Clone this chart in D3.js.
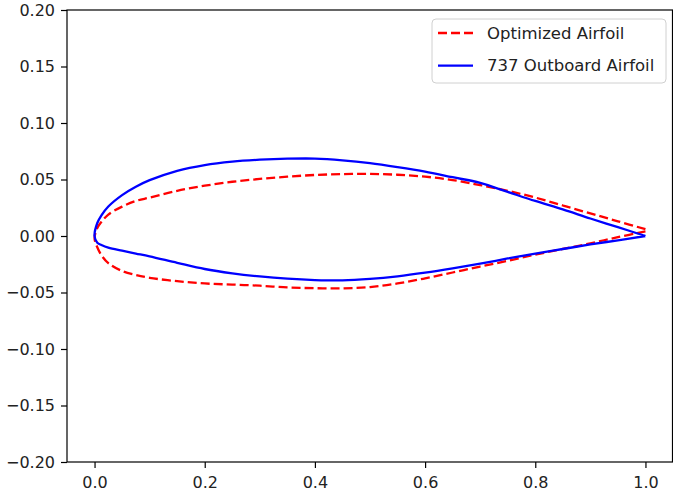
<!DOCTYPE html>
<html>
<head>
<meta charset="utf-8">
<script src="https://cdn.jsdelivr.net/npm/d3@7"></script>
<style>
  body { margin: 0; background: #fff; }
  svg { display: block; font-family: "DejaVu Sans", sans-serif; }
</style>
</head>
<body>
<div id="chart"></div>
<script>
// chord stations (x/c) shared by both airfoils
const stations = [0, 0.005, 0.0125, 0.025, 0.05, 0.075, 0.1, 0.15, 0.2, 0.25, 0.3, 0.35, 0.4,
    0.45, 0.5, 0.55, 0.6, 0.65, 0.7, 0.75, 0.8, 0.85, 0.9, 0.95, 1.0];

// optimized airfoil (red dashed)
const optUpper = [-0.002, 0.007, 0.0125, 0.019, 0.026, 0.031, 0.034, 0.040, 0.0445, 0.048, 0.0505, 0.0525, 0.054,
    0.0548, 0.055, 0.0542, 0.0525, 0.0495, 0.045, 0.040, 0.034, 0.027, 0.020, 0.013, 0.006];
const optLower = [-0.002, -0.010, -0.017, -0.024, -0.031, -0.0345, -0.037, -0.040, -0.042, -0.043, -0.044, -0.0455, -0.0462,
    -0.0463, -0.0452, -0.042, -0.0375, -0.0323, -0.027, -0.022, -0.0165, -0.0115, -0.0065, -0.001, 0.004];

// 737 outboard airfoil (blue solid)
const b737Upper = [0, 0.0115, 0.0183, 0.0261, 0.0362, 0.0436, 0.0494, 0.0577, 0.0628, 0.0658, 0.0675, 0.0684, 0.0685,
    0.067, 0.0645, 0.061, 0.057, 0.052, 0.047, 0.039, 0.031, 0.0235, 0.0155, 0.0078, 0];
const b737Lower = [0, -0.006, -0.008, -0.0103, -0.013, -0.0155, -0.018, -0.0237, -0.0292, -0.033, -0.0358, -0.0378, -0.039,
    -0.0393, -0.038, -0.0357, -0.0325, -0.0287, -0.0245, -0.0199, -0.0155, -0.0115, -0.0075, -0.0038, 0];

const xTicks = [0, 0.2, 0.4, 0.6, 0.8, 1.0];
const yTicks = [-0.2, -0.15, -0.1, -0.05, 0, 0.05, 0.1, 0.15, 0.2];

const width = 673, height = 494;
const plotLeft = 67, plotRight = 673, plotTop = 10, plotBottom = 462;

const svg = d3.select('#chart').append('svg')
    .attr('width', width)
    .attr('height', height);

const x = d3.scaleLinear().domain([-0.05, 1.05]).range([plotLeft, plotRight]);
const y = d3.scaleLinear().domain([-0.2, 0.2]).range([plotBottom, plotTop]);

// go round the profile: upper surface TE -> LE, then lower LE -> TE
function outline(upper, lower) {
    const pts = [];
    for (let i = stations.length - 1; i >= 0; i--) pts.push([stations[i], upper[i]]);
    for (let i = 1; i < stations.length; i++) pts.push([stations[i], lower[i]]);
    return pts;
}

const line = d3.line()
    .x(d => x(d[0]))
    .y(d => y(d[1]))
    .curve(d3.curveCatmullRom.alpha(0.5));

svg.append('path')
    .attr('d', line(outline(optUpper, optLower)))
    .attr('fill', 'none')
    .attr('stroke', '#ff0000')
    .attr('stroke-width', 2.3)
    .attr('stroke-dasharray', '9,4');

svg.append('path')
    .attr('d', line(outline(b737Upper, b737Lower)))
    .attr('fill', 'none')
    .attr('stroke', '#0000ff')
    .attr('stroke-width', 2.3);

// axes
const xAxis = svg.append('g')
    .attr('transform', `translate(0,${plotBottom})`)
    .call(d3.axisBottom(x).tickValues(xTicks).tickFormat(d3.format('.1f')).tickSize(6).tickPadding(9));

const yAxis = svg.append('g')
    .attr('transform', `translate(${plotLeft},0)`)
    .call(d3.axisLeft(y).tickValues(yTicks).tickFormat(d3.format('.2f')).tickSize(6).tickPadding(6));

[xAxis, yAxis].forEach(g => {
    g.select('.domain').remove();
    g.selectAll('line').attr('stroke', '#000').attr('stroke-width', 1.2);
    g.selectAll('text').attr('font-size', 16).attr('fill', '#222')
        .attr('font-family', '"DejaVu Sans", sans-serif');
});

// frame
svg.append('rect')
    .attr('x', plotLeft)
    .attr('y', plotTop)
    .attr('width', plotRight - 0.5 - plotLeft)
    .attr('height', plotBottom - plotTop)
    .attr('fill', 'none')
    .attr('stroke', '#000')
    .attr('stroke-width', 1.2);

// legend
const legendItems = [
    { label: 'Optimized Airfoil', color: '#ff0000', dash: '9,4' },
    { label: '737 Outboard Airfoil', color: '#0000ff', dash: null }
];

const legend = svg.append('g');
legend.append('rect')
    .attr('x', 432)
    .attr('y', 19)
    .attr('width', 234)
    .attr('height', 64)
    .attr('rx', 4)
    .attr('fill', '#fff')
    .attr('fill-opacity', 0.8)
    .attr('stroke', '#d0d0d0')
    .attr('stroke-width', 1);

legendItems.forEach((d, i) => {
    const ly = 33 + i * 32.7;
    legend.append('line')
        .attr('x1', 438).attr('x2', 473)
        .attr('y1', ly).attr('y2', ly)
        .attr('stroke', d.color)
        .attr('stroke-width', 2.3)
        .attr('stroke-dasharray', d.dash);
    legend.append('text')
        .attr('x', 487)
        .attr('y', ly)
        .attr('dy', '0.35em')
        .attr('font-size', 16.5)
        .attr('fill', '#222')
        .text(d.label);
});
</script>
</body>
</html>
